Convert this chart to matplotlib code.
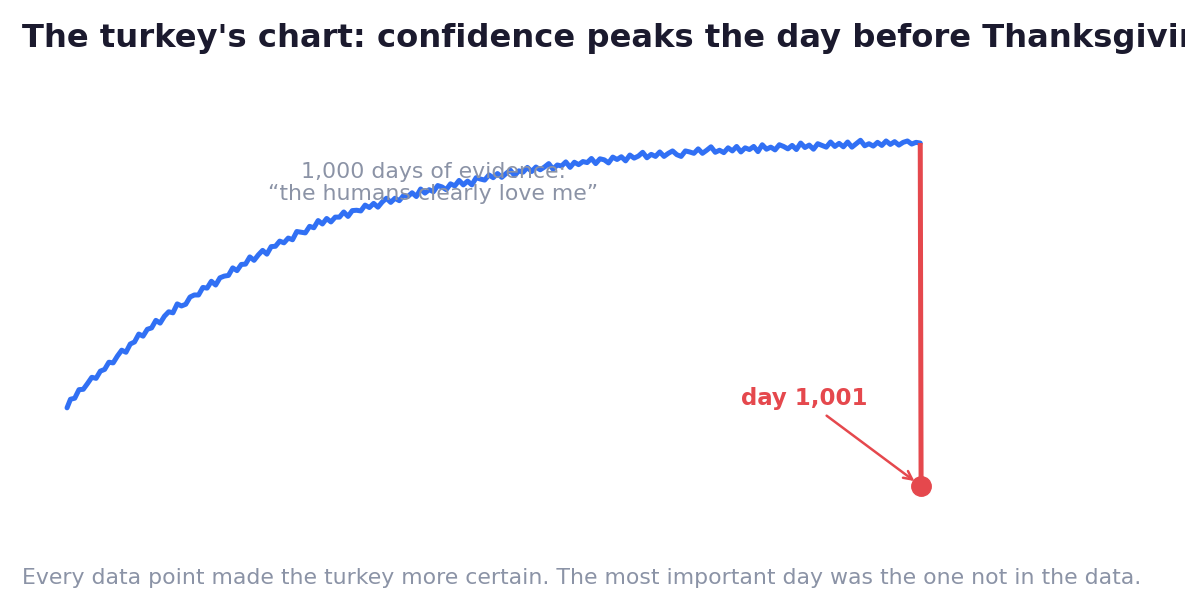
import numpy as np
import matplotlib
matplotlib.use("Agg")
import matplotlib.pyplot as plt

#%% data (one value every 5 days)

days = [1] + list(range(5, 1001, 5))

confidence = [
    22.8, 25.3, 25.6, 28.1, 28.2, 29.9, 31.7, 31.4, 33.5, 34.0,
    36.1, 35.9, 37.9, 39.6, 39.0, 41.4, 42.0, 44.3, 43.7, 45.7,
    46.1, 48.3, 47.5, 49.5, 50.8, 50.5, 53.1, 52.5, 53.0, 55.1,
    55.7, 55.7, 57.9, 57.7, 59.7, 58.6, 60.7, 61.2, 61.4, 63.6,
    62.8, 64.6, 64.7, 66.8, 65.8, 67.4, 68.7, 67.6, 69.8, 69.9,
    71.4, 70.9, 72.3, 71.8, 74.2, 74.0, 73.8, 75.7, 75.3, 77.4,
    76.4, 78.0, 77.0, 78.4, 78.4, 79.9, 78.6, 80.3, 80.4, 80.2,
    81.9, 81.2, 82.4, 81.3, 82.8, 83.9, 82.7, 83.9, 83.2, 84.7,
    84.4, 85.5, 84.4, 86.6, 85.4, 86.4, 85.8, 87.6, 87.2, 86.4,
    88.1, 87.5, 89.1, 87.8, 88.9, 87.8, 89.9, 89.5, 89.2, 90.7,
    89.9, 91.1, 90.0, 91.1, 92.1, 90.5, 91.9, 91.5, 92.9, 91.7,
    93.0, 92.2, 93.0, 94.0, 92.4, 93.6, 93.3, 94.5, 92.9, 94.4,
    93.7, 94.6, 94.3, 95.5, 94.0, 95.4, 95.1, 94.2, 95.9, 95.2,
    96.0, 94.8, 96.5, 95.6, 96.2, 97.3, 95.7, 96.7, 96.1, 97.4,
    96.1, 97.0, 97.7, 96.6, 96.1, 97.7, 97.4, 97.0, 98.3, 97.0,
    97.9, 98.9, 97.3, 97.9, 97.2, 98.6, 97.7, 99.0, 97.4, 98.6,
    98.1, 99.0, 97.5, 99.5, 98.2, 98.8, 98.0, 99.5, 99.0, 98.3,
    99.3, 98.1, 100.0, 98.7, 99.4, 98.2, 99.8, 99.3, 98.8, 100.3,
    99.0, 99.9, 98.9, 100.3, 98.8, 99.8, 100.8, 99.2, 99.8, 99.1,
    100.2, 99.3, 100.6, 99.6, 100.4, 99.4, 100.2, 100.6, 99.7, 100.2,
    100.0,
]

crash_day = 1001
crash_value = 0.0

title = "The turkey's chart: confidence peaks the day before Thanksgiving"
note = "1,000 days of evidence:\n\u201cthe humans clearly love me\u201d"
crash_label = "day 1,001"
footer = "Every data point made the turkey more certain. The most important day was the one not in the data."

#%% styling

blue = '#3170f4'
red = '#e5484d'
gray = '#8b93a6'
dark = '#1b1a2e'

fig = plt.figure(figsize=(11.85, 6.15), dpi=100)
ax = fig.add_axes([0, 0, 1, 1])
ax.set_xlim(-77.5, 1310)
ax.set_ylim(-37.6, 141.7)
ax.axis('off')

ax.plot(days, confidence, color=blue, lw=3.6, solid_joinstyle='round',
        solid_capstyle='round', zorder=2)

# the drop on day 1,001
ax.plot([days[-1], crash_day], [confidence[-1], crash_value], color=red,
        lw=3.6, solid_capstyle='butt', zorder=3)
ax.plot([crash_day], [crash_value], 'o', color=red, ms=14, zorder=4)

ax.text(430, 88.3, note, ha='center', va='center', multialignment='center',
        fontsize=15.8, color=gray, linespacing=1.1, zorder=5)

ax.annotate(crash_label, xy=(crash_day, crash_value), xytext=(864, 25.4),
            ha='center', va='center', fontsize=16.5, fontweight='bold',
            color=red, zorder=5,
            arrowprops=dict(arrowstyle='->', color=red, lw=1.8,
                            shrinkA=3, shrinkB=6, mutation_scale=15))

fig.text(22/1185, 1-46.5/615, title, ha='left', va='baseline',
         fontsize=23.2, fontweight='bold', color=dark)
fig.text(22/1185, 1-584.5/615, footer, ha='left', va='baseline',
         fontsize=15.8, color=gray)

fig.savefig('out.png', dpi=100)
